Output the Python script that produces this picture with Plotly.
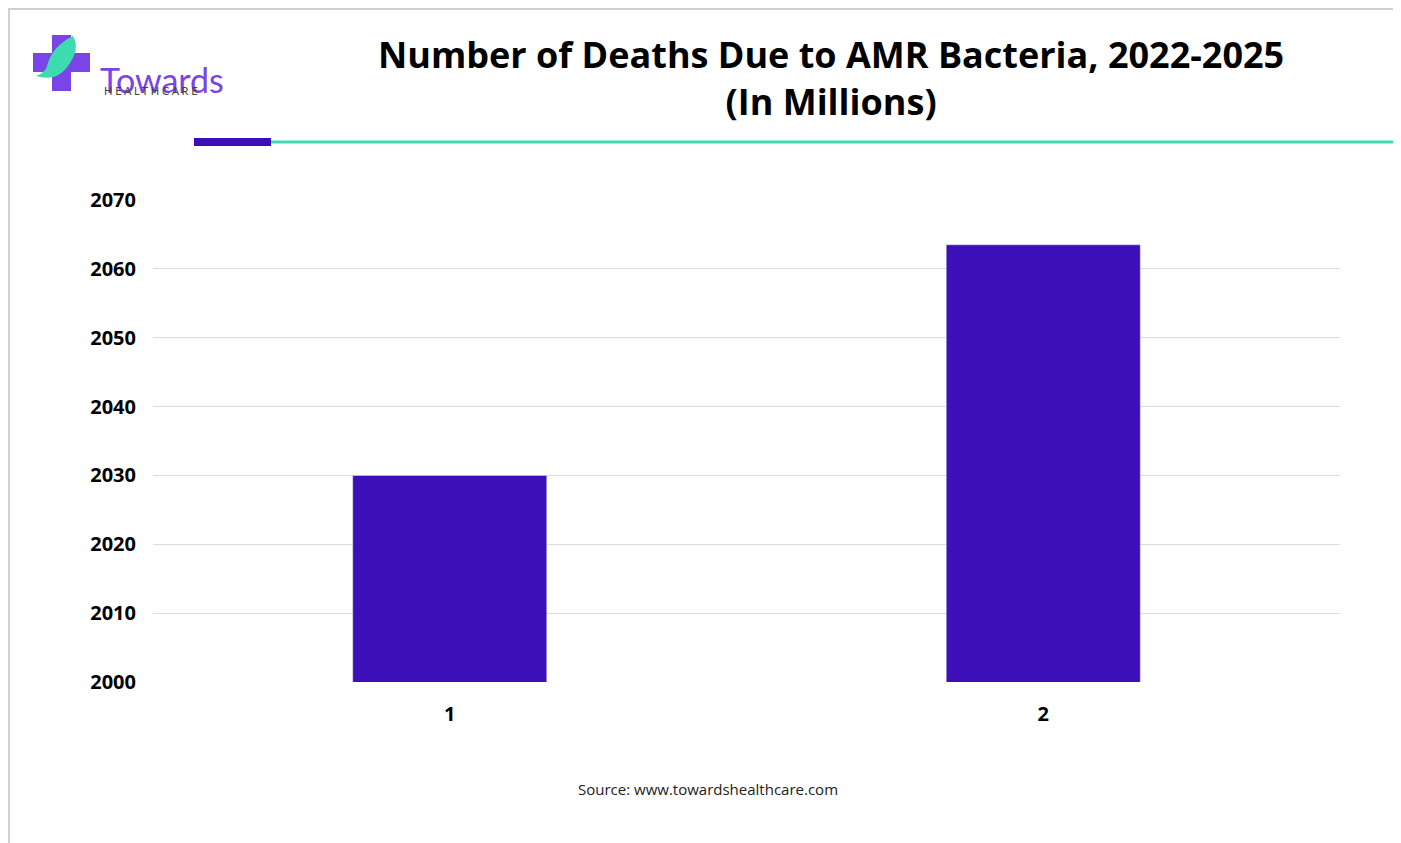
import plotly.graph_objects as go

categories = ["1", "2"]
values = [2030, 2063.5]
y_ticks = [2000, 2010, 2020, 2030, 2040, 2050, 2060, 2070]

W, H = 1401, 843
L, R, T, B = 145, 1332, 192, 674  # plot area in pixels

fig = go.Figure(go.Bar(x=categories, y=values, marker_color="#3d0fb8", width=0.327))

fig.update_layout(
    width=W, height=H,
    paper_bgcolor="white", plot_bgcolor="white",
    margin=dict(l=L, r=W - R, t=T, b=H - B, autoexpand=False),
    showlegend=False,
    font=dict(family="Open Sans", color="black"),
    xaxis=dict(type="category", tickfont=dict(size=20, family="Open Sans", color="black", weight="bold"),
               ticklabelstandoff=18, showgrid=False, showline=False),
    yaxis=dict(range=[2000, 2070], tickvals=y_ticks, showgrid=True, gridcolor="#dcdcdc",
               tickfont=dict(size=20, family="Open Sans", color="black", weight="bold"),
               ticklabelstandoff=16, zeroline=False),
)

# convert picture pixels to paper coords (paper = plot area)
def px(x): return (x - L) / (R - L)
def py(y): return (B - y) / (B - T)

fig.add_annotation(text="<b>Number of Deaths Due to AMR Bacteria, 2022-2025<br>(In Millions)</b>",
                   x=px(823), y=py(70), xref="paper", yref="paper",
                   xanchor="center", yanchor="middle", showarrow=False,
                   font=dict(size=36, family="Open Sans", color="black"))
fig.add_annotation(text="Source: www.towardshealthcare.com", x=px(700), y=py(793),
                   xref="paper", yref="paper", showarrow=False,
                   font=dict(size=15, family="Open Sans", color="#222"))

shapes = [
    dict(type="line", x0=px(263), x1=px(1401), y0=py(134), y1=py(134), line=dict(color="#3ddbb0", width=3)),
    dict(type="rect", x0=px(186), x1=px(263), y0=py(130), y1=py(138), fillcolor="#3d0fb8", line_width=0),
    dict(type="rect", x0=px(1), x1=px(1400), y0=py(842), y1=py(1), line=dict(color="#d0d0d0", width=2)),
    dict(type="rect", x0=px(44), x1=px(63), y0=py(27), y1=py(83), fillcolor="#7a45e6", line_width=0),
    dict(type="rect", x0=px(25), x1=px(82), y0=py(45), y1=py(64), fillcolor="#7a45e6", line_width=0),
    dict(type="path", path=f"M {px(28)},{py(68)} Q {px(50)},{py(75)} {px(62)},{py(55)} Q {px(72)},{py(40)} {px(65)},{py(28)} Q {px(45)},{py(38)} {px(40)},{py(55)} Q {px(38)},{py(65)} {px(28)},{py(68)} Z",
         fillcolor="#3ddbb0", line_width=0),
]
for s in shapes:
    s.setdefault("xref", "paper"); s.setdefault("yref", "paper")
    s["layer"] = "above"
    fig.add_shape(**s)

fig.add_annotation(text="Towards", x=px(90), y=py(49), xref="paper", yref="paper", xanchor="left",
                   showarrow=False, font=dict(size=34, family="Lato", color="#7a45e6"))
fig.add_annotation(text="H E A L T H C A R E", x=px(94), y=py(74), xref="paper", yref="paper", xanchor="left",
                   showarrow=False, font=dict(size=11, family="Lato", color="#444"))

fig.write_html("out.html")
